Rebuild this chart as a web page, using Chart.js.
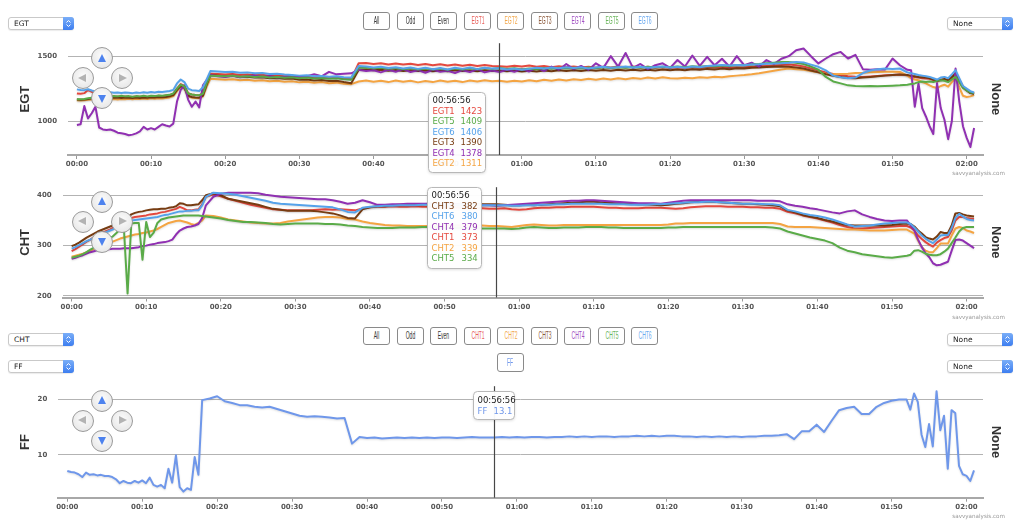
<!DOCTYPE html>
<html>
<head>
<meta charset="utf-8">
<script src="https://cdn.jsdelivr.net/npm/chart.js@4.4.1/dist/chart.umd.min.js"></script>
<style>
body { margin: 0; background: #fff; width: 1024px; height: 525px; overflow: hidden; position: relative; font-family: "DejaVu Sans", sans-serif; }
canvas { position: absolute; left: 0; }
.sel { position: absolute; width: 66px; height: 13px; box-sizing: border-box; border: 1px solid #c9c9c9; border-radius: 3px; background: #fff; font-size: 7.5px; line-height: 11px; color: #222; padding-left: 5px; box-shadow: 0 1px 1px rgba(0,0,0,0.08); }
.sel i { position: absolute; right: -1px; top: -1px; width: 11px; height: 13px; border-radius: 0 3px 3px 0; background: linear-gradient(#7aaef8, #3d7ef0); }
.btn { position: absolute; width: 27px; height: 18px; box-sizing: border-box; border: 1px solid #8a8a8a; border-radius: 3px; background: #fff; text-align: center; font: 10px "Liberation Sans", sans-serif; line-height: 16px; white-space: nowrap; }
.btn span { display: inline-block; transform: scaleX(0.5); }
.nav { position: absolute; width: 22px; height: 22px; margin: -11px 0 0 -11px; border-radius: 50%; box-sizing: border-box; border: 1px solid #9a9a9a; background: radial-gradient(circle at 50% 40%, #fcfcfc, #e2e2e2); }
.nav b { position: absolute; width: 0; height: 0; }
.up b { left: 5.5px; top: 5.5px; border-left: 4.5px solid transparent; border-right: 4.5px solid transparent; border-bottom: 8px solid #4d82ee; }
.down b { left: 5.5px; top: 6.5px; border-left: 4.5px solid transparent; border-right: 4.5px solid transparent; border-top: 8px solid #4d82ee; }
.left b { left: 5px; top: 5.5px; border-top: 4.5px solid transparent; border-bottom: 4.5px solid transparent; border-right: 8px solid #b3b3b3; }
.right b { left: 7px; top: 5.5px; border-top: 4.5px solid transparent; border-bottom: 4.5px solid transparent; border-left: 8px solid #b3b3b3; }
.wm { position: absolute; right: 19px; font-size: 5.6px; line-height: 7px; color: #999; }
</style>
</head>
<body>
<canvas id="egtChart" width="1024" height="150" style="top:28px"></canvas>
<canvas id="chtChart" width="1024" height="148" style="top:172px"></canvas>
<canvas id="ffChart" width="1024" height="151" style="top:371px"></canvas>

<div class="wm" style="top:170px">savvyanalysis.com</div>
<div class="wm" style="top:314px">savvyanalysis.com</div>
<div class="wm" style="top:513px">savvyanalysis.com</div>

<script>
// time in minutes since start (same samples for all three charts)
const times = [
  0,0.5,1,1.5,2,2.5,3,3.5,4,4.5,5,5.5,6,6.5,7,7.5,8,8.5,9,9.5,10,10.5,11,11.5,12,12.5,13,13.5,14,14.5,15,15.5,16,16.5,17,17.5,18,
  19,20,21,22,23,24,25,26,27,28,
  29,30,31,32,33,34,35,36,37,38,
  39,40,41,42,43,44,45,46,47,48,
  49,50,51,52,53,54,55,56,57,58,
  59,60,61,62,63,64,65,66,67,68,
  69,70,71,72,73,74,75,76,77,78,
  79,80,81,82,83,84,85,86,87,88,
  89,90,91,92,93,94,95,96,97,98,
  99,100,101,102,103,104,105,106,107,108,
  109,110,111,112,
  112.5,113,113.5,114,114.5,115,115.5,116,116.5,117,117.5,118,118.5,119,119.5,120,120.5,121
];

const egt1 = [
  1213,1210,1215,1240,1225,1200,1195,1192,1190,1192,1188,1190,1186,1190,1188,1185,1190,1187,1190,1186,1192,1190,1194,1192,1196,1200,1210,1250,1285,1270,1215,1205,1200,1198,1215,1300,1365,
  1362,1358,1362,1355,1358,1352,1356,1348,1352,1345,
  1348,1340,1344,1338,1342,1335,1338,1330,1325,1445,
  1448,1440,1446,1436,1444,1435,1442,1432,1440,1430,
  1438,1428,1436,1426,1434,1425,1432,1424,1423,1418,
  1426,1420,1428,1418,1425,1415,1422,1414,1420,1412,
  1418,1410,1418,1412,1420,1414,1420,1412,1418,1410,
  1416,1410,1415,1408,1414,1408,1415,1410,1416,1410,
  1415,1412,1418,1420,1425,1428,1432,1436,1430,1420,
  1405,1390,1375,1362,1352,1346,1342,1340,1344,1348,
  1352,1355,1358,1352,
  1345,1340,1335,1330,1328,1325,1315,1305,1315,1320,1310,1335,1370,1320,1265,1240,1220,1212
];
const egt2 = [
  1160,1158,1160,1163,1166,1168,1170,1168,1172,1168,1170,1166,1170,1168,1172,1168,1172,1170,1174,1170,1175,1172,1176,1174,1178,1182,1192,1230,1262,1250,1190,1180,1178,1176,1190,1265,1325,
  1322,1318,1322,1315,1318,1310,1314,1306,1310,1302,
  1306,1298,1302,1295,1300,1292,1296,1288,1284,1305,
  1312,1302,1310,1300,1312,1302,1310,1298,1308,1300,
  1312,1302,1310,1300,1312,1304,1314,1306,1311,1302,
  1310,1304,1314,1306,1318,1310,1320,1312,1322,1316,
  1326,1318,1328,1320,1330,1322,1332,1325,1335,1328,
  1338,1330,1328,1334,1330,1338,1334,1342,1338,1346,
  1350,1354,1360,1368,1378,1388,1398,1405,1400,1395,
  1385,1375,1365,1360,1362,1365,1370,1372,1376,1378,
  1380,1380,1378,1350,
  1330,1320,1315,1300,1290,1275,1262,1254,1270,1280,1265,1300,1330,1260,1195,1185,1190,1200
];
const egt3 = [
  1165,1164,1166,1170,1175,1178,1180,1182,1180,1183,1180,1182,1178,1182,1180,1178,1182,1178,1182,1180,1184,1182,1185,1184,1186,1190,1200,1240,1270,1258,1195,1185,1182,1180,1195,1280,1355,
  1350,1345,1348,1340,1342,1335,1338,1330,1332,1325,
  1328,1318,1320,1312,1316,1308,1310,1300,1292,1395,
  1398,1392,1396,1388,1394,1386,1392,1385,1390,1384,
  1390,1384,1392,1386,1390,1384,1392,1386,1390,1384,
  1390,1382,1388,1382,1390,1384,1392,1386,1392,1386,
  1394,1388,1394,1388,1395,1390,1396,1390,1396,1390,
  1398,1392,1398,1392,1400,1395,1402,1398,1404,1400,
  1406,1405,1410,1412,1416,1418,1420,1418,1412,1405,
  1390,1375,1360,1348,1340,1332,1330,1335,1340,1345,
  1350,1355,1358,1355,
  1348,1345,1340,1338,1335,1330,1320,1312,1318,1325,1315,1340,1365,1310,1260,1235,1215,1210
];
const egt4 = [
  970,975,1115,1020,1060,1110,950,935,930,935,925,910,905,900,890,895,905,920,955,935,945,935,955,975,965,958,980,1150,1240,1275,1165,1110,1150,1105,1275,1315,1354,
  1345,1340,1350,1338,1345,1352,1340,1348,1335,1342,
  1350,1338,1346,1360,1345,1379,1360,1365,1368,1395,
  1385,1392,1375,1395,1380,1400,1378,1392,1372,1395,
  1380,1388,1370,1392,1378,1398,1375,1390,1378,1395,
  1380,1400,1382,1410,1385,1420,1395,1440,1400,1425,
  1395,1445,1410,1500,1420,1525,1410,1440,1400,1430,
  1445,1410,1470,1420,1505,1425,1495,1430,1480,1420,
  1500,1430,1450,1420,1470,1440,1480,1500,1546,1559,
  1500,1444,1482,1515,1533,1482,1510,1400,1395,1400,
  1398,1482,1430,1395,
  1392,1110,1290,1100,1035,960,900,1292,1100,1010,860,1000,1405,1150,960,870,800,946
];
const egt5 = [
  1167,1168,1170,1175,1180,1185,1188,1190,1192,1190,1192,1190,1194,1190,1192,1188,1192,1190,1194,1190,1195,1192,1196,1194,1198,1202,1212,1250,1280,1268,1212,1205,1200,1198,1210,1290,1350,
  1348,1345,1350,1342,1346,1340,1344,1336,1340,1334,
  1338,1330,1335,1328,1332,1326,1330,1322,1318,1410,
  1412,1406,1410,1402,1408,1400,1406,1398,1405,1398,
  1404,1396,1404,1398,1406,1400,1408,1402,1409,1402,
  1406,1398,1405,1400,1408,1402,1410,1404,1410,1404,
  1412,1406,1414,1408,1415,1410,1416,1410,1418,1412,
  1418,1414,1420,1415,1422,1418,1425,1420,1428,1424,
  1432,1430,1436,1440,1446,1450,1455,1456,1450,1440,
  1420,1395,1340,1305,1290,1275,1270,1268,1270,1268,
  1270,1272,1275,1280,
  1285,1290,1300,1305,1300,1305,1300,1310,1315,1310,1300,1320,1340,1300,1255,1235,1220,1215
];
const egt6 = [
  1244,1240,1238,1245,1235,1228,1225,1222,1220,1222,1218,1220,1216,1220,1218,1215,1220,1217,1222,1218,1224,1220,1226,1224,1228,1232,1240,1290,1320,1300,1250,1238,1235,1232,1260,1320,1385,
  1382,1378,1380,1372,1375,1368,1370,1362,1365,1358,
  1355,1350,1352,1345,1348,1342,1345,1338,1335,1425,
  1420,1412,1418,1408,1415,1405,1412,1402,1410,1400,
  1408,1398,1410,1402,1412,1400,1410,1404,1406,1398,
  1404,1395,1402,1410,1405,1412,1406,1414,1408,1415,
  1405,1412,1418,1410,1415,1420,1412,1418,1410,1416,
  1420,1412,1418,1410,1420,1415,1425,1428,1432,1428,
  1432,1430,1436,1438,1442,1444,1446,1450,1456,1452,
  1435,1418,1390,1350,1338,1330,1335,1370,1390,1400,
  1405,1402,1405,1375,
  1368,1362,1355,1350,1345,1340,1330,1320,1335,1340,1330,1360,1392,1330,1270,1250,1230,1220
];

const cht1 = [
  289,293,298,303,308,312,317,321,325,328,331,335,339,343,347,351,355,357,358,359,360,362,363,364,366,367,369,371,373,377,374,370,370,371,372,382,397,
  402,398,393,389,385,381,378,375,372,371,
  370,370,370,370,371,372,371,372,371,370,
  374,376,377,377,378,377,377,378,377,377,
  376,376,376,375,375,374,374,373,373,374,
  372,371,372,374,375,375,376,376,377,377,
  377,377,376,375,375,374,374,374,375,375,
  375,374,373,374,376,377,378,378,378,377,
  377,377,376,376,375,375,373,367,364,360,
  357,354,350,346,341,337,334,334,335,336,
  337,338,339,339,
  336,330,320,313,307,302,298,306,311,315,317,330,350,357,357,355,354,353
];
const cht2 = [
  278,280,282,284,287,290,293,296,299,302,305,308,311,314,316,318,320,322,323,325,326,328,330,333,337,341,345,347,349,350,348,346,343,341,345,350,360,
  359,356,352,350,348,346,345,344,344,345,
  348,350,352,354,356,357,357,356,353,352,
  348,345,343,341,340,340,339,339,339,339,
  340,340,340,340,340,340,340,339,339,338,
  337,339,341,342,341,340,340,341,341,341,
  341,341,341,341,341,341,341,341,341,341,
  341,342,344,344,345,345,345,345,345,345,
  345,345,345,345,345,345,343,338,337,337,
  337,336,335,334,333,332,332,331,330,330,
  330,331,332,332,
  328,324,310,297,290,287,287,295,304,304,304,320,334,337,335,330,328,325
];
const cht3 = [
  299,302,306,311,316,320,324,328,331,334,337,340,344,348,352,356,362,365,367,368,370,371,372,372,373,373,375,376,378,384,383,380,380,381,382,390,400,
  404,400,393,390,387,384,381,377,373,371,
  369,369,369,369,368,366,364,360,355,354,
  372,376,378,378,380,381,381,382,382,383,
  382,381,382,382,383,382,382,382,382,381,
  380,380,381,380,381,382,383,384,385,386,
  387,387,386,385,384,384,383,382,382,381,
  380,381,383,384,386,387,387,387,386,385,
  384,383,383,382,381,380,378,370,366,361,
  358,355,351,348,344,341,340,340,340,340,
  340,341,343,344,
  343,338,330,324,317,314,312,318,327,325,325,340,364,365,362,360,359,358
];
const cht4 = [
  274,276,279,281,284,287,289,291,292,293,293,294,294,294,295,295,295,296,297,299,300,302,303,305,306,307,309,312,322,330,334,337,338,340,343,355,380,
  397,403,405,405,405,405,404,401,399,397,
  396,395,394,393,392,392,390,387,383,385,
  390,386,381,381,382,382,383,383,383,383,
  382,382,383,382,381,381,380,380,379,380,
  381,382,383,384,385,386,387,388,389,389,
  390,390,389,388,387,386,385,384,384,384,
  383,385,387,389,390,390,390,390,390,390,
  390,390,390,389,389,389,388,382,379,377,
  374,372,369,366,364,368,370,362,357,353,
  350,349,350,350,
  340,330,312,297,285,277,265,261,262,265,268,290,311,312,310,305,300,295
];
const cht5 = [
  276,278,280,283,287,292,296,300,306,311,315,318,325,333,336,205,344,345,345,272,347,317,326,345,352,354,356,357,358,359,360,360,360,360,360,359,358,
  356,354,351,349,347,347,346,345,343,342,
  343,344,344,344,344,343,343,342,340,339,
  337,336,335,335,335,336,336,336,337,337,
  336,335,335,335,335,335,334,334,334,334,
  333,334,336,337,336,335,335,336,336,336,
  337,337,337,336,336,335,335,335,335,335,
  335,336,336,337,337,337,337,337,337,337,
  337,337,337,337,337,336,334,328,324,320,
  316,313,310,305,296,290,287,283,281,279,
  277,276,278,280,
  282,290,291,288,284,282,281,281,283,288,294,305,316,328,335,337,337,337
];
const cht6 = [
  294,297,301,305,309,312,316,320,323,326,329,332,336,339,343,346,350,351,352,353,354,355,356,357,359,361,362,364,366,368,368,369,369,370,370,380,397,
  405,404,403,401,398,395,392,389,385,383,
  382,381,380,379,378,377,376,372,367,366,
  375,377,378,379,379,380,380,380,381,381,
  381,381,380,381,381,381,380,380,380,380,
  379,379,380,380,381,381,382,382,383,383,
  383,383,383,382,382,382,381,381,381,382,
  382,383,384,385,386,386,387,387,386,385,
  384,383,383,383,382,382,380,371,368,364,
  361,359,356,352,347,342,338,339,340,342,
  344,345,346,346,
  343,336,328,320,314,309,305,312,320,321,321,335,355,363,358,353,351,350
];

const ff = [
  7.1,6.9,6.8,6.5,6.0,6.8,6.4,6.5,6.3,6.4,6.2,6.2,6.0,5.6,4.9,5.3,5.0,4.9,5.3,5.0,5.4,4.9,5.9,4.6,4.3,4.6,4.0,7.5,5.0,9.9,4.2,3.4,4.0,3.7,9.6,6.4,19.8,
  20.1,20.5,19.6,19.3,18.9,18.9,18.6,18.5,18.6,18.2,
  17.8,17.4,17.0,16.8,16.9,16.8,16.7,16.5,16.6,12.0,
  13.2,13.0,13.1,12.9,13.0,13.1,13.0,13.1,13.0,13.1,
  13.0,13.1,13.1,13.0,13.1,13.2,13.1,13.1,13.1,13.2,
  13.1,13.2,13.1,13.2,13.2,13.1,13.2,13.2,13.3,13.2,
  13.3,13.2,13.3,13.3,13.2,13.3,13.3,13.4,13.3,13.4,
  13.3,13.4,13.4,13.3,13.3,13.2,13.3,13.2,13.3,13.2,
  13.3,13.2,13.3,13.3,13.4,13.4,13.5,13.7,12.8,14.2,
  14.2,15.4,14.1,16.1,18.0,18.4,18.6,17.3,17.3,18.6,
  19.3,19.7,19.9,19.9,
  18.1,21.0,19.5,13.6,11.4,15.5,11.5,21.4,14.4,17.0,7.5,18.0,17.5,8.0,6.5,6.2,5.3,7.2
];

const egtNames = ['EGT1', 'EGT2', 'EGT3', 'EGT4', 'EGT5', 'EGT6'];
const chtNames = ['CHT1', 'CHT2', 'CHT3', 'CHT4', 'CHT5', 'CHT6'];
const cylColors = ['#e5493f', '#f4a442', '#773c12', '#9030b2', '#5aab48', '#55a2ea'];
const btnColors = ['#e8605c', '#f2a84c', '#8c5a3c', '#a150c2', '#6ab55b', '#6aa9ef'];
const ffColor = '#6f97ea';

const xTickValues = [0, 10, 20, 30, 40, 50, 60, 70, 80, 90, 100, 110, 120];
const xTickLabels = ['00:00', '00:10', '00:20', '00:30', '00:40', '00:50', '01:00', '01:10', '01:20', '01:30', '01:40', '01:50', '02:00'];
const egtYTicks = [1000, 1500];
const chtYTicks = [200, 300, 400];
const ffYTicks = [10, 20];

// cursor at 00:56:56 and the values its tooltips show
const cursorTime = 56 + 56 / 60;
const egtTipNames = ['EGT1', 'EGT5', 'EGT6', 'EGT3', 'EGT4', 'EGT2'];
const egtTipValues = [1423, 1409, 1406, 1390, 1378, 1311];
const chtTipNames = ['CHT3', 'CHT6', 'CHT4', 'CHT1', 'CHT2', 'CHT5'];
const chtTipValues = [382, 380, 379, 373, 339, 334];
const ffTipNames = ['FF'];
const ffTipValues = ['13.1'];

function pad2(n) { return (n < 10 ? '0' : '') + n; }
function fmtTime(t) {
    var s = Math.round(t * 60);
    return pad2(Math.floor(s / 3600)) + ':' + pad2(Math.floor(s / 60) % 60) + ':' + pad2(s % 60);
}

function makeOverlay(cfg) {
    return {
        id: 'overlay',
        beforeDatasetsDraw: function (chart) {
            var ctx = chart.ctx;
            ctx.save();
            ctx.shadowColor = 'rgba(0,0,0,0.13)';
            ctx.shadowBlur = 2;
            ctx.shadowOffsetY = 1;
        },
        afterDatasetsDraw: function (chart) {
            var ctx = chart.ctx;
            ctx.restore();
            var area = chart.chartArea;
            var cx = Math.round(chart.scales.x.getPixelForValue(cursorTime)) + 0.5;

            ctx.save();
            ctx.strokeStyle = '#474747';
            ctx.lineWidth = 1.2;
            ctx.beginPath();
            ctx.moveTo(cx, area.top);
            ctx.lineTo(cx, area.bottom);
            ctx.stroke();

            var t = cfg.tip;
            var bx = Math.round(cx + t.dx) + 0.5, by = Math.round(area.top + t.dy) + 0.5;
            var r = 4;
            ctx.beginPath();
            ctx.moveTo(bx + r, by);
            ctx.arcTo(bx + t.w, by, bx + t.w, by + t.h, r);
            ctx.arcTo(bx + t.w, by + t.h, bx, by + t.h, r);
            ctx.arcTo(bx, by + t.h, bx, by, r);
            ctx.arcTo(bx, by, bx + t.w, by, r);
            ctx.closePath();
            ctx.shadowColor = 'rgba(0,0,0,0.18)';
            ctx.shadowBlur = 3;
            ctx.shadowOffsetY = 1;
            ctx.fillStyle = 'rgba(255,255,255,0.96)';
            ctx.fill();
            ctx.shadowColor = 'transparent';
            ctx.strokeStyle = '#b8b8b8';
            ctx.lineWidth = 1;
            ctx.stroke();

            ctx.font = '8.5px "DejaVu Sans"';
            ctx.textBaseline = 'middle';
            ctx.textAlign = 'left';
            ctx.fillStyle = '#222';
            ctx.fillText(fmtTime(cursorTime), bx + 4, by + t.y0);
            cfg.tipNames.forEach(function (n, i) {
                var k = cfg.names.indexOf(n);
                ctx.fillStyle = cfg.colors[k];
                var y = by + t.y0 + (i + 1) * t.row;
                ctx.fillText(n, bx + 4, y);
                ctx.fillText(String(cfg.tipValues[i]), bx + t.vx, y);
            });
            ctx.restore();
        }
    };
}

function makeChart(id, cfg) {
    var ctx = document.getElementById(id).getContext('2d');
    var tickFont = { family: 'DejaVu Sans', weight: 'bold', size: 7 };
    var titleFont = { family: 'Liberation Sans', weight: 'bold', size: 13 };

    return new Chart(ctx, {
        type: 'line',
        data: {
            datasets: cfg.series.map(function (vals, i) {
                return {
                    label: cfg.names[i],
                    data: times.map(function (t, k) { return { x: t, y: vals[k] }; }),
                    borderColor: cfg.colors[i],
                    borderWidth: 2,
                    borderJoinStyle: 'round',
                    pointRadius: 0,
                    tension: 0,
                    fill: false,
                    order: cfg.series.length - i
                };
            })
        },
        options: {
            responsive: false,
            animation: false,
            events: [],
            // the y tick padding already reserves ~15px at the top of each canvas
            layout: { padding: 0 },
            plugins: { legend: { display: false }, tooltip: { enabled: false } },
            scales: {
                x: {
                    type: 'linear',
                    min: -1.2,
                    max: 122.2,
                    afterBuildTicks: function (s) { s.ticks = xTickValues.map(function (v) { return { value: v }; }); },
                    afterFit: function (s) { s.height = cfg.xHeight; },
                    ticks: {
                        autoSkip: false,
                        maxRotation: 0,
                        padding: 1,
                        color: '#555',
                        font: tickFont,
                        callback: function (v) { return xTickLabels[xTickValues.indexOf(v)]; }
                    },
                    grid: { drawOnChartArea: false, drawTicks: true, tickLength: 4, color: '#999' },
                    border: { display: true, color: '#a8a8a8', width: 2 }
                },
                y: {
                    position: 'left',
                    min: cfg.yMin,
                    max: cfg.yMax,
                    afterBuildTicks: function (s) { s.ticks = cfg.yTicks.map(function (v) { return { value: v }; }); },
                    afterFit: function (s) { s.width = cfg.leftWidth; },
                    ticks: { padding: 11, color: '#555', font: tickFont, callback: function (v) { return String(v); } },
                    grid: { color: '#b3b3b3', lineWidth: 1, drawTicks: false },
                    border: { display: false },
                    title: { display: true, text: cfg.title, color: '#333', font: titleFont, padding: { top: 18, bottom: 0 } }
                },
                yRight: {
                    position: 'right',
                    min: 0,
                    max: 1,
                    afterFit: function (s) { s.width = 41; },
                    ticks: { display: false },
                    grid: { display: false },
                    border: { display: false },
                    title: { display: true, text: 'None', color: '#333', font: titleFont, padding: { top: 21, bottom: 0 } }
                }
            }
        },
        plugins: [makeOverlay(cfg)]
    });
}

makeChart('egtChart', {
    title: 'EGT', names: egtNames, colors: cylColors,
    series: [egt1, egt2, egt3, egt4, egt5, egt6],
    yMin: 738, yMax: 1600, yTicks: egtYTicks, leftWidth: 68, xHeight: 23,
    tipNames: egtTipNames, tipValues: egtTipValues,
    tip: { dx: -72, dy: 49, w: 57, h: 80, y0: 8.7, row: 10.5, vx: 32 }
});

makeChart('chtChart', {
    title: 'CHT', names: chtNames, colors: cylColors,
    series: [cht1, cht2, cht3, cht4, cht5, cht6],
    yMin: 197, yMax: 416, yTicks: chtYTicks, leftWidth: 62.7, xHeight: 22.5,
    tipNames: chtTipNames, tipValues: chtTipValues,
    tip: { dx: -70, dy: 0, w: 54, h: 81, y0: 8.7, row: 10.5, vx: 34 }
});

makeChart('ffChart', {
    title: 'FF', names: ['FF'], colors: [ffColor],
    series: [ff],
    yMin: 2.3, yMax: 22.3, yTicks: ffYTicks, leftWidth: 58.3, xHeight: 24.3,
    tipNames: ffTipNames, tipValues: ffTipValues,
    tip: { dx: -22, dy: 5, w: 41, h: 28, y0: 9.7, row: 10.5, vx: 20 }
});

// ---- page controls around the charts ----
function addEl(cls, css, html) {
    var d = document.createElement('div');
    d.className = cls;
    d.style.cssText = css;
    d.innerHTML = html || '';
    document.body.appendChild(d);
    return d;
}

var chevron = '<i><svg width="11" height="13"><path d="M3.5 5.5 L5.5 3.5 L7.5 5.5 M3.5 7.5 L5.5 9.5 L7.5 7.5" stroke="#fff" stroke-width="1" fill="none"/></svg></i>';
[['EGT', 17], ['CHT', 333], ['FF', 360]].forEach(function (s) {
    addEl('sel', 'left:8px;top:' + s[1] + 'px', s[0] + chevron);
    addEl('sel', 'left:947px;top:' + s[1] + 'px', 'None' + chevron);
});

var btnLefts = [363, 397, 430, 464, 497, 531, 564, 598, 631];
function addButtonRow(top, names) {
    var labels = ['All', 'Odd', 'Even'].concat(names);
    labels.forEach(function (l, i) {
        var c = i < 3 ? '#333' : btnColors[i - 3];
        addEl('btn', 'left:' + btnLefts[i] + 'px;top:' + top + 'px;color:' + c, '<span>' + l + '</span>');
    });
}
addButtonRow(12, egtNames);
addButtonRow(327, chtNames);
addEl('btn', 'left:497px;top:353px;height:19px;line-height:17px;color:' + ffColor, '<span>FF</span>');

function addNav(cy) {
    addEl('nav up', 'left:102px;top:' + (cy - 20) + 'px', '<b></b>');
    addEl('nav left', 'left:83px;top:' + cy + 'px', '<b></b>');
    addEl('nav right', 'left:122px;top:' + cy + 'px', '<b></b>');
    addEl('nav down', 'left:102px;top:' + (cy + 20) + 'px', '<b></b>');
}
addNav(78);
addNav(221.7);
addNav(420.7);
</script>
</body>
</html>
